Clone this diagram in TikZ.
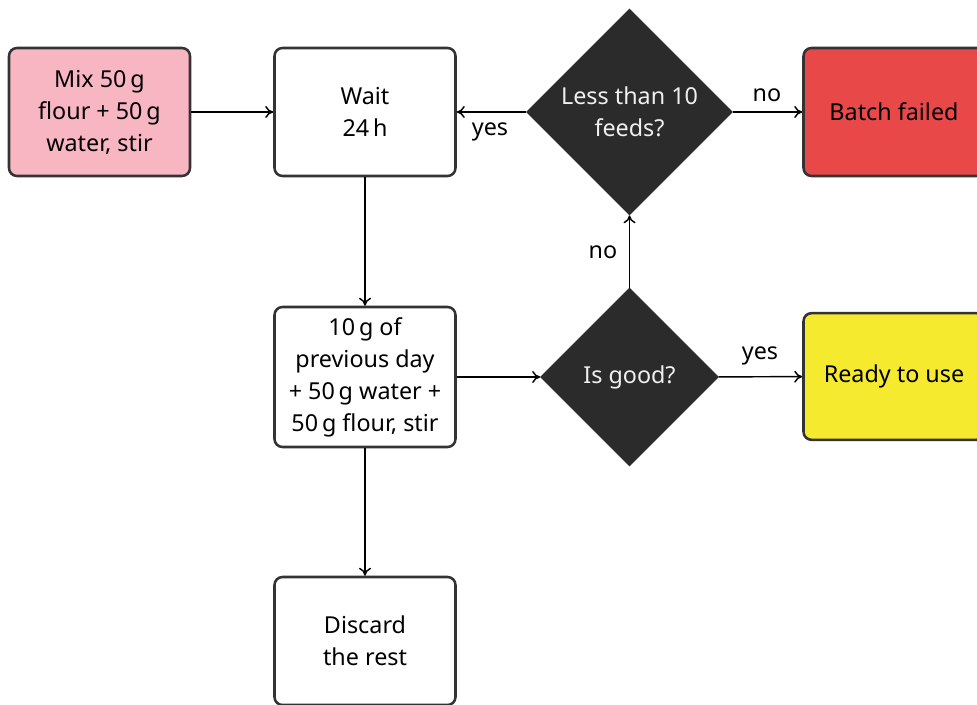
\documentclass[tikz,border=0pt]{standalone}
\usepackage{fontspec}
\setmainfont{Noto Sans}
\usetikzlibrary{shapes.geometric,arrows.meta}
\definecolor{pinkfill}{HTML}{F8B6C2}
\definecolor{redfill}{HTML}{E84848}
\definecolor{yellowfill}{HTML}{F5EA2E}
\definecolor{darkfill}{HTML}{2B2B2B}
\definecolor{edge}{HTML}{333333}
\definecolor{lighttext}{HTML}{F0F0F0}
\begin{document}
\begin{tikzpicture}[x=0.75pt,y=-0.75pt,
  every node/.style={font=\fontsize{17.5pt}{24pt}\selectfont},
  box/.style={draw=edge,line width=1.9pt,rounded corners=6pt,align=center,
    minimum width=135.75pt,minimum height=96pt,inner sep=2pt},
  decision/.style={diamond,aspect=1,fill=darkfill,text=lighttext,align=center,
    inner sep=0pt,outer sep=0pt},
  conn/.style={-{To[length=6pt,width=9pt]},line width=1.1pt,black},
  lbl/.style={inner sep=1pt}]
\useasboundingbox (0,0) rectangle (977,705);
\clip (0,0) rectangle (977,705);
\node[box,fill=pinkfill] (mix) at (99.5,112) {Mix 50\,g\\flour + 50\,g\\water, stir};
\node[box,fill=white] (wait) at (365,112) {Wait\\24\,h};
\node[decision,minimum size=155pt] (less) at (629.5,112) {Less than 10\\feeds?};
\node[box,fill=redfill] (fail) at (894,112) {Batch failed};
\node[box,fill=white,minimum height=105pt] (feed) at (365,377) {10\,g of\\previous day\\+ 50\,g water +\\50\,g flour, stir};
\node[decision,minimum size=134pt] (good) at (629.5,377) {Is good?};
\node[box,fill=yellowfill,minimum height=95pt] (ready) at (894,376.5) {Ready to use};
\node[box,fill=white] (disc) at (365,641) {Discard\\the rest};
\draw[conn] (mix) -- (wait);
\draw[conn] (less) -- (wait);
\draw[conn] (less) -- (fail);
\draw[conn] (wait) -- (feed);
\draw[conn] (feed) -- (good);
\draw[conn] (good) -- (ready);
\draw[conn] (good) -- (less);
\draw[conn] (feed) -- (disc);
\node[lbl] (lyes1) at (490,132) {yes};
\node[lbl] (lno1) at (767,95) {no};
\node[lbl] (lyes2) at (760,356) {yes};
\node[lbl] (lno2) at (603,252) {no};
\end{tikzpicture}
\end{document}
